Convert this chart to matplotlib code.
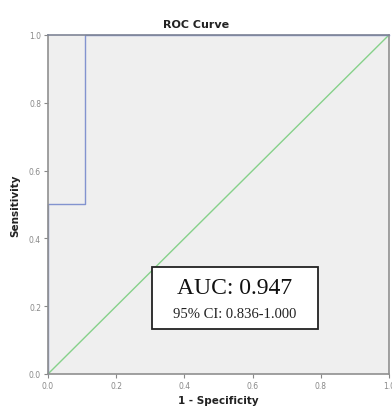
import matplotlib
matplotlib.use("Agg")
import matplotlib.pyplot as plt

# ROC curve points (1 - specificity, sensitivity)
fpr = [0.0, 0.0, 0.11, 0.11, 1.0]
tpr = [0.0, 0.5, 0.5, 1.0, 1.0]
ref_line = [0.0, 1.0]
ticks = [0.0, 0.2, 0.4, 0.6, 0.8, 1.0]
tick_labels = ["0.0", "0.2", "0.4", "0.6", "0.8", "1.0"]
auc_text = "AUC: 0.947"
ci_text = "95% CI: 0.836-1.000"

fig = plt.figure(figsize=(3.92, 4.10), dpi=100)
ax = fig.add_axes([0.1224, 0.0854, 0.87, 0.827])
ax.set_facecolor("#efefef")

# reference diagonal first, then the ROC step line on top
ax.plot(ref_line, ref_line, color="#86d18a", linewidth=1.0)
ax.plot(fpr, tpr, color="#8293cf", linewidth=1.0, clip_on=False)

ax.set_xlim(0, 1)
ax.set_ylim(0, 1)
ax.set_xticks(ticks)
ax.set_xticklabels(tick_labels)
ax.set_yticks(ticks)
ax.set_yticklabels(tick_labels)
ax.tick_params(labelsize=5.5, colors="#888888", length=3, width=0.8, pad=2)

for side in ["left", "bottom", "right", "top"]:
    ax.spines[side].set_color("#909090")
    ax.spines[side].set_linewidth(1.2)
ax.spines["top"].set_color("#7f8596")

# title sits over the middle of the whole figure
fig.text(0.5, 0.938, "ROC Curve", fontsize=8, fontweight="bold",
         ha="center", va="center", color="#222222")
ax.set_xlabel("1 - Specificity", fontsize=7.5, fontweight="bold",
              labelpad=4, color="#222222")
ax.set_ylabel("Sensitivity", fontsize=7.5, fontweight="bold",
              labelpad=6, color="#222222")

# AUC annotation box
ax.add_patch(plt.Rectangle((0.305, 0.133), 0.487, 0.183, fill=True,
                           facecolor="white", edgecolor="#222222",
                           linewidth=1.3, zorder=3))
ax.text(0.548, 0.256, auc_text, fontsize=17, family="Liberation Serif",
        ha="center", va="center", color="#111111", zorder=4)
ax.text(0.548, 0.178, ci_text, fontsize=10.5, family="Liberation Serif",
        ha="center", va="center", color="#222222", zorder=4)

fig.savefig("out.png", dpi=100)
